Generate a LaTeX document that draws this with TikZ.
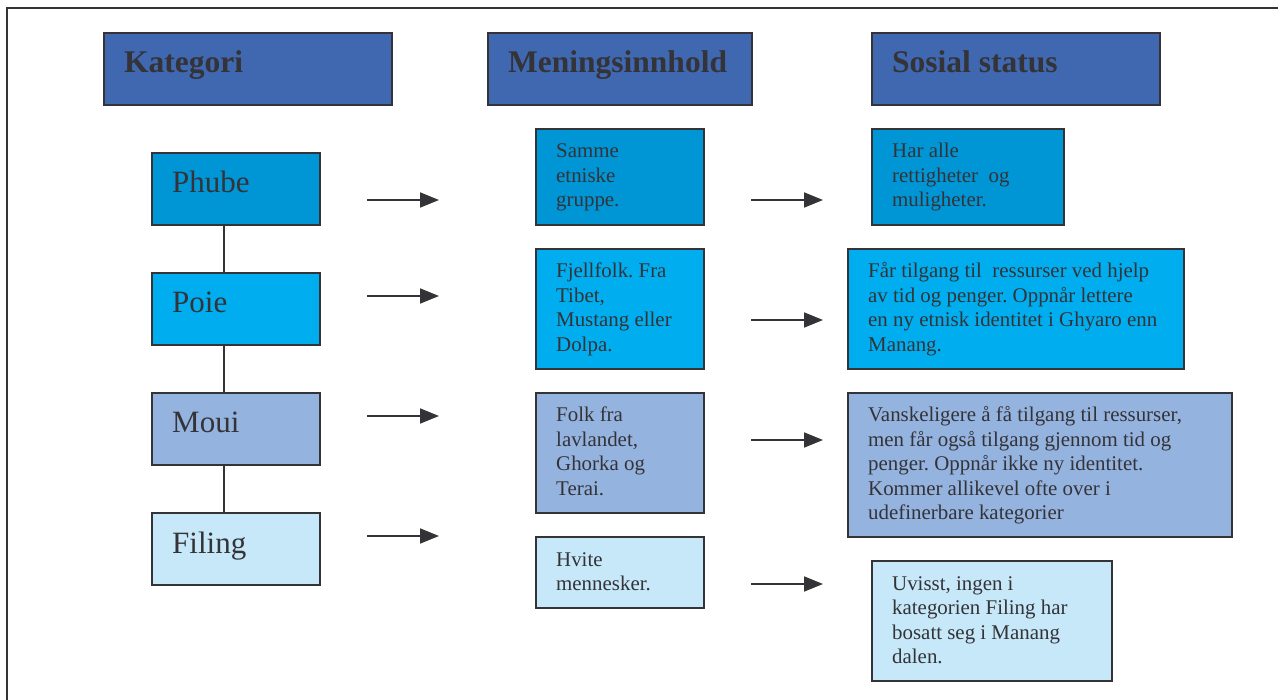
\documentclass[tikz,border=0pt]{standalone}
\usepackage{fontspec}
\setmainfont{Liberation Serif}
\usetikzlibrary{arrows.meta}
\frenchspacing
\definecolor{hdr}{RGB}{64,104,176}
\definecolor{cA}{RGB}{0,150,214}
\definecolor{cB}{RGB}{0,174,239}
\definecolor{cC}{RGB}{149,179,223}
\definecolor{cD}{RGB}{198,232,248}
\definecolor{ink}{RGB}{51,51,56}
\tikzset{
  box/.style={draw=ink, line width=1.6pt, anchor=north west, inner sep=0pt, minimum width=#1},
  hd/.style={font=\fontsize{31.5}{36}\selectfont\bfseries, text=ink, anchor=base west, inner sep=0pt},
  cat/.style={font=\fontsize{31}{36}\selectfont, text=ink, anchor=base west, inner sep=0pt},
  txt/.style={font=\fontsize{20.9}{24.5}\selectfont, text=ink, anchor=base west, inner sep=0pt},
  arr/.style={draw=ink, line width=1.8pt, -{Triangle[length=19pt,width=15pt]}},
  lnk/.style={draw=ink, line width=1.6pt},
}
\newcommand{\lines}[2]{\parbox[t]{#1pt}{\raggedright\frenchspacing #2}}
\begin{document}
\begin{tikzpicture}[x=1pt,y=-1pt]
\useasboundingbox (0,0) rectangle (1278,700);
\fill[white] (0,0) rectangle (1278,700);
% outer frame
\draw[ink, line width=2.4pt] (7,702) -- (7,8) -- (1280,8);
% headers
\node[box=288pt, minimum height=72pt, fill=hdr] (h1) at (103,32) {};
\node[hd] (h1t) at (124,73) {Kategori};
\node[box=264pt, minimum height=72pt, fill=hdr] (h2) at (487,32) {};
\node[hd] (h2t) at (508,73) {Meningsinnhold};
\node[box=288pt, minimum height=72pt, fill=hdr] (h3) at (871,32) {};
\node[hd] (h3t) at (892,73) {Sosial status};
% categories
\node[box=168pt, minimum height=72pt, fill=cA] (phube) at (151,152) {};
\node[cat] (phubet) at (172,193) {Phube};
\node[box=168pt, minimum height=72pt, fill=cB] (poie) at (151,272) {};
\node[cat] (poiet) at (172,313) {Poie};
\node[box=168pt, minimum height=72pt, fill=cC] (moui) at (151,392) {};
\node[cat] (mouit) at (172,433) {Moui};
\node[box=168pt, minimum height=72pt, fill=cD] (filing) at (151,512) {};
\node[cat] (filingt) at (172,553) {Filing};
\draw[lnk] ([xshift=-12pt]phube.south) -- ([xshift=-12pt]poie.north);
\draw[lnk] ([xshift=-12pt]poie.south) -- ([xshift=-12pt]moui.north);
\draw[lnk] ([xshift=-12pt]moui.south) -- ([xshift=-12pt]filing.north);
% middle column
\node[box=168pt, minimum height=96pt, fill=cA] (m1) at (535,128) {};
\node[txt] (m1t) at (556,158) {\lines{145}{Samme\\etniske\\gruppe.}};
\node[box=168pt, minimum height=120pt, fill=cB] (m2) at (535,248) {};
\node[txt] (m2t) at (556,278) {\lines{145}{Fjellfolk. Fra\\Tibet,\\Mustang eller\\Dolpa.}};
\node[box=168pt, minimum height=120pt, fill=cC] (m3) at (535,392) {};
\node[txt] (m3t) at (556,422) {\lines{145}{Folk fra\\lavlandet,\\Ghorka og\\Terai.}};
\node[box=168pt, minimum height=71pt, fill=cD] (m4) at (535,536) {};
\node[txt] (m4t) at (556,566) {\lines{145}{Hvite\\mennesker.}};
% right column
\node[box=192pt, minimum height=96pt, fill=cA] (r1) at (871,128) {};
\node[txt] (r1t) at (892,158) {\lines{165}{Har alle\\rettigheter\ \ og\\muligheter.}};
\node[box=336pt, minimum height=120pt, fill=cB] (r2) at (847,248) {};
\node[txt] (r2t) at (868,278) {\lines{320}{Får tilgang til\ \ ressurser ved hjelp\\av tid og penger. Oppnår lettere\\en ny etnisk identitet i Ghyaro enn\\Manang.}};
\node[box=384pt, minimum height=144pt, fill=cC] (r3) at (847,392) {};
\node[txt] (r3t) at (868,422) {\lines{370}{Vanskeligere å få tilgang til ressurser,\\men får også tilgang gjennom tid og\\penger. Oppnår ikke ny identitet.\\Kommer allikevel ofte over i\\udefinerbare kategorier}};
\node[box=240pt, minimum height=120pt, fill=cD] (r4) at (871,560) {};
\node[txt] (r4t) at (892,590) {\lines{220}{Uvisst, ingen i\\kategorien Filing har\\bosatt seg i Manang\\dalen.}};
% arrows
\foreach \n/\y in {1/200,2/296,3/416,4/536}{
  \coordinate (a\n s) at (367,\y);
  \coordinate (a\n e) at (439,\y);
  \draw[arr] (a\n s) -- (a\n e);
}
\foreach \n/\y in {1/200,2/320,3/440,4/584}{
  \coordinate (b\n s) at (751,\y);
  \coordinate (b\n e) at (823,\y);
  \draw[arr] (b\n s) -- (b\n e);
}
\end{tikzpicture}
\end{document}
